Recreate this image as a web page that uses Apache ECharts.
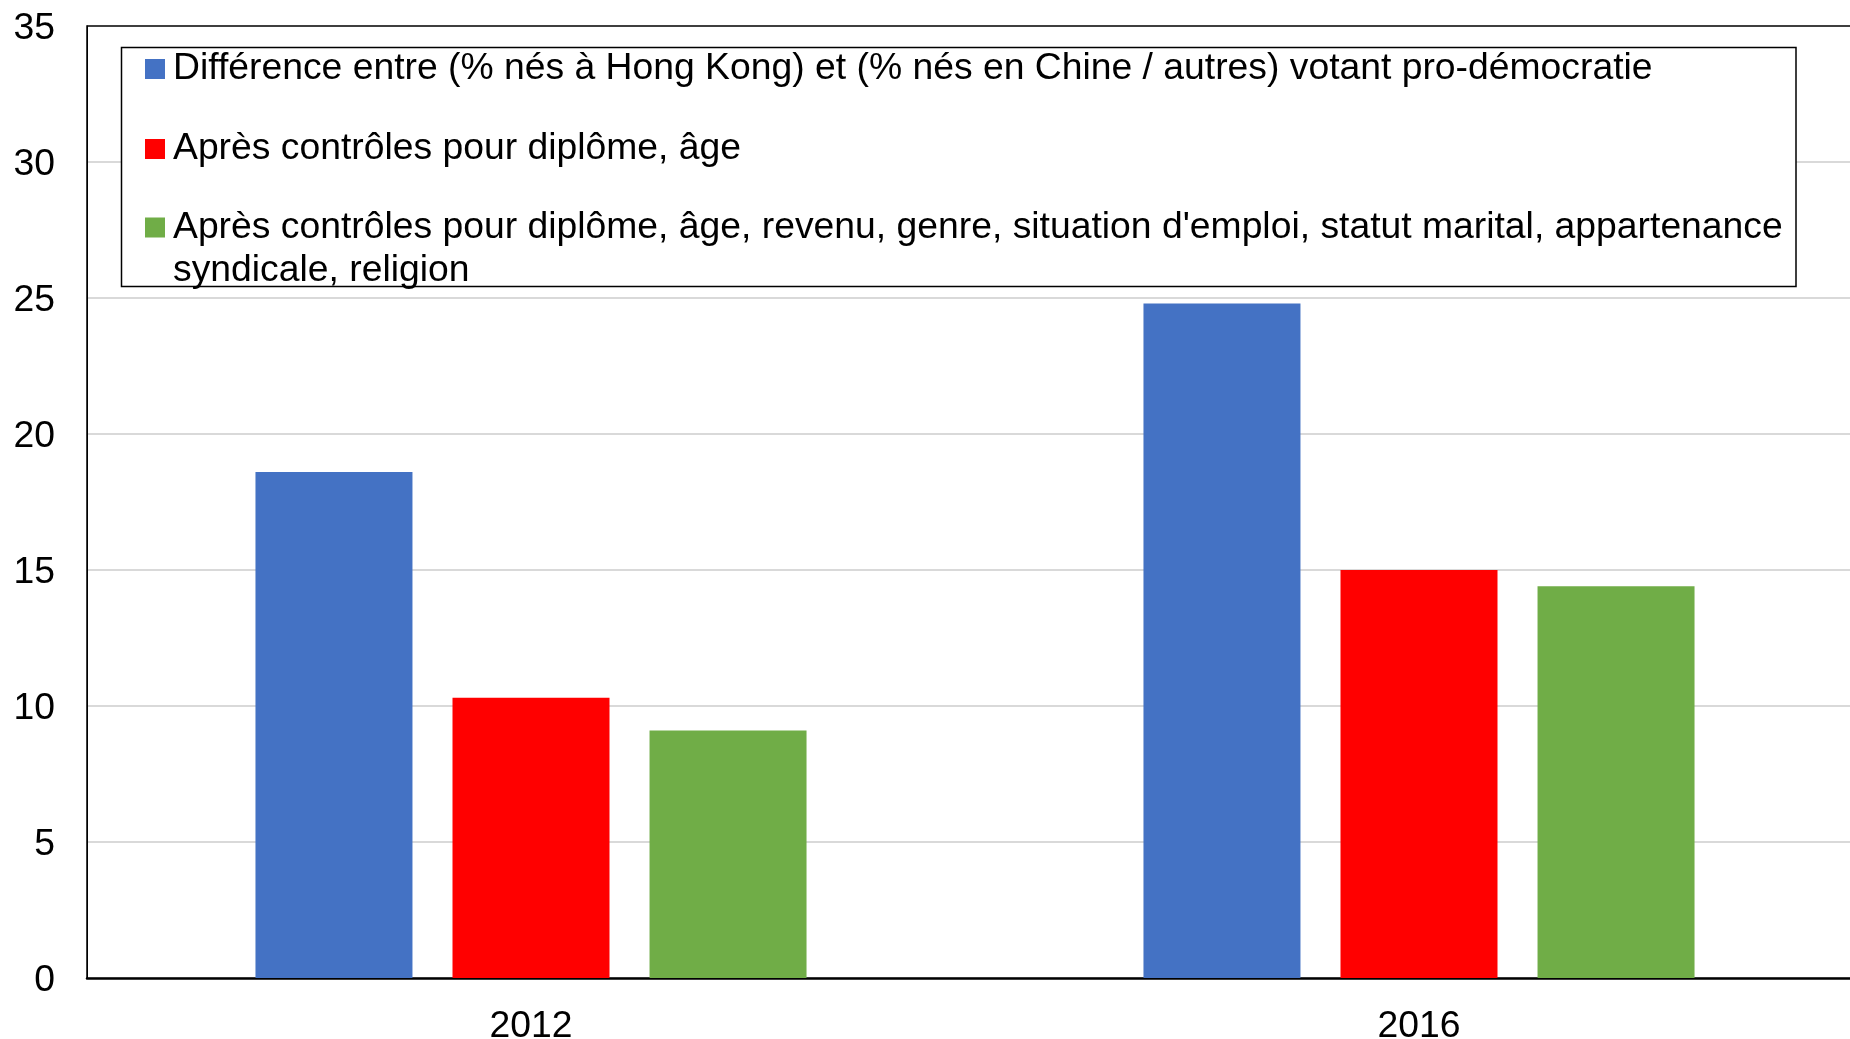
<!DOCTYPE html>
<html>
<head>
<meta charset="utf-8">
<script src="https://cdn.jsdelivr.net/npm/echarts@6/dist/echarts.min.js"></script>
<style>
  html, body { margin: 0; padding: 0; background: #fff; }
  #main { width: 1850px; height: 1039px; }
</style>
</head>
<body>
<div id="main"></div>
<script>
// data
const years = ['2012', '2016'];
const seriesNames = [
    "Différence entre (% nés à Hong Kong) et (% nés en Chine / autres) votant pro-démocratie",
    "Après contrôles pour diplôme, âge",
    "Après contrôles pour diplôme, âge, revenu, genre, situation d'emploi, statut marital, appartenance syndicale, religion"
];
const rawDiff = [18.6, 24.8];
const ctrlBasic = [10.3, 15.0];
const ctrlFull = [9.1, 14.4];
const colors = ['#4472C4', '#FF0000', '#70AD47'];

const fontFam = '"Liberation Sans", Arial, sans-serif';
const fontSize = 37.3;

const chart = echarts.init(document.getElementById('main'));

const barSeries = [rawDiff, ctrlBasic, ctrlFull].map((vals, i) => ({
    name: seriesNames[i],
    type: 'bar',
    data: vals,
    barWidth: 157,
    barGap: '25.5%',
    itemStyle: { color: colors[i] },
    emphasis: { disabled: true }
}));

const legendText = {
    fontFamily: fontFam,
    fontSize: fontSize,
    color: '#000',
    lineHeight: 43,
    padding: [0, 0, 0, 3]
};

chart.setOption({
    animation: false,
    textStyle: { fontFamily: fontFam },
    grid: {
        left: 87, top: 26, width: 1776, height: 952,
        outerBoundsMode: 'none',
        show: true, borderColor: '#000', borderWidth: 1.5
    },
    graphic: [{
        type: 'rect',
        z: 3,
        shape: { x: 121.5, y: 47.5, width: 1674.5, height: 239 },
        style: { fill: '#fff', stroke: '#000', lineWidth: 1.5 }
    }],
    legend: [{
        orient: 'vertical',
        left: 145, top: 47.5,
        padding: 0,
        itemGap: 37,
        itemWidth: 20, itemHeight: 20,
        icon: 'rect',
        z: 5,
        data: seriesNames.slice(0, 2),
        textStyle: legendText
    }, {
        orient: 'vertical',
        left: 145, top: 163,
        padding: 0,
        itemWidth: 20, itemHeight: 20,
        icon: 'rect',
        z: 5,
        data: seriesNames.slice(2),
        // empty first line keeps the square level with the first text line
        formatter: name => '\n' + name.replace(' appartenance syndicale', ' appartenance\nsyndicale'),
        textStyle: legendText
    }],
    xAxis: {
        type: 'category',
        data: years,
        axisTick: { show: false },
        axisLine: { show: true, lineStyle: { color: '#000', width: 2.5 } },
        axisLabel: { fontSize: fontSize, color: '#000', margin: 30, fontFamily: fontFam }
    },
    yAxis: {
        type: 'value',
        min: 0, max: 35, interval: 5,
        axisLine: { show: true, lineStyle: { color: '#000', width: 1 } },
        axisTick: { show: false },
        splitLine: { showMaxLine: false, lineStyle: { color: '#d9d9d9', width: 2 } },
        axisLabel: {
            color: '#000', margin: 32,
            formatter: v => '{v|' + v + '}',
            rich: { v: { fontSize: fontSize, fontFamily: fontFam, color: '#000', padding: [5, 0, 0, 0] } }
        }
    },
    series: barSeries
});
</script>
</body>
</html>
